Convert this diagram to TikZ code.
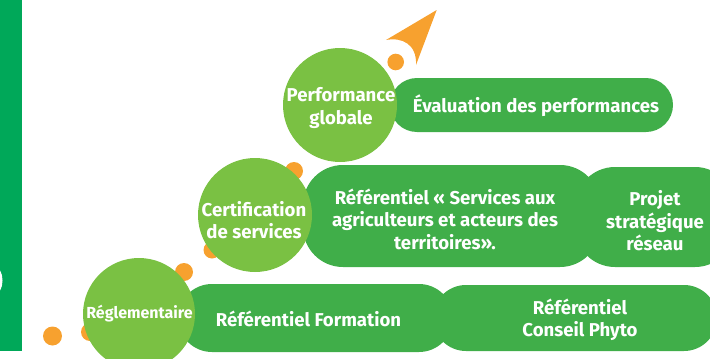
\documentclass[tikz,border=0pt]{standalone}
\usepackage{fontspec}
\setmainfont{Fira Sans}
\definecolor{barc}{HTML}{00A859}
\definecolor{circc}{HTML}{7AC143}
\definecolor{pillc}{HTML}{40AE49}
\definecolor{dotc}{HTML}{F7A12F}
\begin{document}
\begin{tikzpicture}[x=1pt,y=-1pt,
 pillbox/.style={fill=pillc, draw=none, rectangle, inner sep=0pt},
 circbox/.style={fill=circc, draw=none, circle, inner sep=0pt, minimum size=114pt},
 lbl/.style={text=white, font=\fontsize{18.6}{22.5}\selectfont\bfseries, align=center, inner sep=0pt},
 dotbox/.style={fill=dotc, draw=none, circle, inner sep=0pt}]
\useasboundingbox (0,0) rectangle (710,359);
% left bar
\fill[barc] (0,0) rectangle (21.5,351);
\draw[white, line width=2.5pt] (-1,271) .. controls (2,276) and (2,285) .. (-1,290);
% orange dots
\node[dotbox, minimum size=16.6pt] (d1) at (395.7,62) {};
\node[dotbox, minimum size=18pt] (d2) at (294,171) {};
\node[dotbox, minimum size=17pt] (d3) at (212,250) {};
\node[dotbox, minimum size=18pt] (d4) at (184,272) {};
\node[dotbox, minimum size=18pt] (d5) at (90,332) {};
\node[dotbox, minimum size=19pt] (d6) at (52.5,336) {};
% arrow shape
\coordinate (tip) at (436.7,10);
\coordinate (wing) at (386,40);
\coordinate (foot) at (416,65);
\fill[dotc] (tip) -- (wing) .. controls (402,37) and (417,44) .. (foot) -- cycle;
% pills
\node[pillbox, minimum width=283pt, minimum height=54pt, rounded corners=27pt] (eval) at (531.5,105) {};
\node[pillbox, minimum width=160pt, minimum height=100pt, rounded corners=40pt] (proj) at (655,217) {};
\node[pillbox, minimum width=297pt, minimum height=102pt, rounded corners=40pt] (serv) at (451.5,216) {};
\node[pillbox, minimum width=284pt, minimum height=66pt, rounded corners=33pt] (cons) at (575,318) {};
\node[pillbox, minimum width=275pt, minimum height=68pt, rounded corners=34pt] (form) at (315.5,318) {};
% circles
\node[circbox] (perf) at (340,105) {};
\node[circbox] (cert) at (255,215) {};
\node[circbox, minimum size=112pt] (regl) at (139,314) {};
% labels
\node[lbl] (perfT) at (341,108) {Performance\\globale};
\node[lbl] (certT) at (254,220) {Certification\\de services};
\node[lbl, font=\fontsize{16}{19}\selectfont\bfseries] (reglT) at (139.5,314) {Réglementaire};
\node[lbl] (evalT) at (536,106) {Évaluation des performances};
\node[lbl] (servT) at (445,219) {Référentiel « Services aux\\agriculteurs et acteurs des\\territoires».};
\node[lbl] (projT) at (655,221) {Projet\\stratégique\\réseau};
\node[lbl] (formT) at (308.5,319) {Référentiel Formation};
\node[lbl] (consT) at (580,320) {Référentiel\\Conseil Phyto};
\end{tikzpicture}
\end{document}
